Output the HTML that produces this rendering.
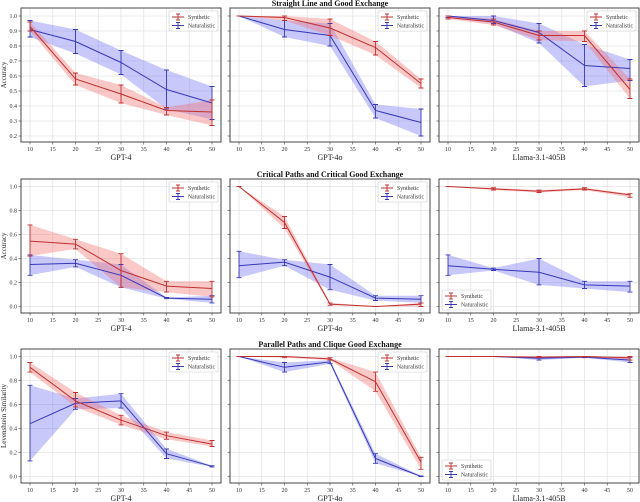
<!DOCTYPE html>
<html><head><meta charset="utf-8">
<style>
html,body{margin:0;padding:0;background:#fff;}
svg{display:block;font-family:"Liberation Serif",serif;}
</style></head>
<body>
<svg id="chart" width="640" height="502" viewBox="0 0 640 502" xmlns="http://www.w3.org/2000/svg"></svg>
<script>
// x categories (path length)
const xCats = [10, 20, 30, 40, 50];
const xTicks = [10, 15, 20, 25, 30, 35, 40, 45, 50];
const row1Ticks = [0.2,0.3,0.4,0.5,0.6,0.7,0.8,0.9,1.0];
const row23Ticks = [0.0,0.2,0.4,0.6,0.8,1.0];
const rowTitles = ["Straight Line and Good Exchange","Critical Paths and Critical Good Exchange","Parallel Paths and Clique Good Exchange"];
const rowYLabels = ["Accuracy","Accuracy","Levenshtein Similarity"];
const modelNames = ["GPT-4","GPT-4o","Llama-3.1-405B"];

// Row 1 — Straight Line
const r1gpt4SynMean = [0.93,0.58,0.48,0.37,0.36];
const r1gpt4SynLo   = [0.90,0.54,0.42,0.34,0.27];
const r1gpt4SynHi   = [0.96,0.62,0.54,0.39,0.44];
const r1gpt4NatMean = [0.91,0.83,0.69,0.51,0.42];
const r1gpt4NatLo   = [0.86,0.75,0.61,0.38,0.31];
const r1gpt4NatHi   = [0.97,0.91,0.77,0.64,0.53];
const r1gpt4oSynMean = [1.0,0.99,0.92,0.79,0.55];
const r1gpt4oSynLo   = [1.0,0.97,0.87,0.74,0.52];
const r1gpt4oSynHi   = [1.0,1.0,0.98,0.83,0.58];
const r1gpt4oNatMean = [1.0,0.91,0.87,0.37,0.29];
const r1gpt4oNatLo   = [1.0,0.86,0.80,0.32,0.20];
const r1gpt4oNatHi   = [1.0,0.97,0.95,0.41,0.38];
const r1llamaSynMean = [0.99,0.96,0.87,0.87,0.51];
const r1llamaSynLo   = [0.98,0.94,0.84,0.83,0.45];
const r1llamaSynHi   = [1.0,0.98,0.90,0.90,0.58];
const r1llamaNatMean = [1.0,0.97,0.89,0.67,0.65];
const r1llamaNatLo   = [0.99,0.95,0.82,0.53,0.57];
const r1llamaNatHi   = [1.0,1.0,0.95,0.81,0.71];

// Row 2 — Critical Paths
const r2gpt4SynMean = [0.545,0.52,0.30,0.17,0.15];
const r2gpt4SynLo   = [0.42,0.48,0.16,0.12,0.08];
const r2gpt4SynHi   = [0.68,0.56,0.44,0.21,0.21];
const r2gpt4NatMean = [0.35,0.36,0.26,0.07,0.06];
const r2gpt4NatLo   = [0.26,0.33,0.16,0.065,0.03];
const r2gpt4NatHi   = [0.43,0.39,0.35,0.075,0.09];
const r2gpt4oSynMean = [1.0,0.70,0.02,0.0,0.02];
const r2gpt4oSynLo   = [1.0,0.65,0.01,0.0,0.0];
const r2gpt4oSynHi   = [1.0,0.75,0.03,0.0,0.03];
const r2gpt4oNatMean = [0.34,0.37,0.245,0.07,0.06];
const r2gpt4oNatLo   = [0.24,0.34,0.14,0.05,0.03];
const r2gpt4oNatHi   = [0.46,0.39,0.35,0.09,0.09];
const r2llamaSynMean = [1.0,0.98,0.96,0.98,0.93];
const r2llamaSynLo   = [1.0,0.97,0.95,0.97,0.91];
const r2llamaSynHi   = [1.0,0.99,0.97,0.99,0.94];
const r2llamaNatMean = [0.34,0.31,0.285,0.18,0.17];
const r2llamaNatLo   = [0.26,0.30,0.18,0.15,0.12];
const r2llamaNatHi   = [0.43,0.32,0.40,0.21,0.21];

// Row 3 — Parallel Paths
const r3gpt4SynMean = [0.91,0.63,0.47,0.34,0.27];
const r3gpt4SynLo   = [0.87,0.58,0.43,0.31,0.25];
const r3gpt4SynHi   = [0.95,0.70,0.51,0.37,0.30];
const r3gpt4NatMean = [0.44,0.61,0.63,0.19,0.085];
const r3gpt4NatLo   = [0.13,0.56,0.57,0.15,0.08];
const r3gpt4NatHi   = [0.76,0.65,0.69,0.23,0.09];
const r3gpt4oSynMean = [1.0,1.0,0.98,0.79,0.12];
const r3gpt4oSynLo   = [1.0,0.99,0.97,0.71,0.06];
const r3gpt4oSynHi   = [1.0,1.0,0.99,0.87,0.16];
const r3gpt4oNatMean = [1.0,0.91,0.955,0.15,0.0];
const r3gpt4oNatLo   = [1.0,0.87,0.94,0.11,0.0];
const r3gpt4oNatHi   = [1.0,0.95,0.97,0.19,0.005];
const r3llamaSynMean = [1.0,1.0,0.995,1.0,0.99];
const r3llamaSynLo   = [1.0,1.0,0.99,0.995,0.97];
const r3llamaSynHi   = [1.0,1.0,1.0,1.0,1.0];
const r3llamaNatMean = [1.0,1.0,0.985,0.995,0.97];
const r3llamaNatLo   = [1.0,1.0,0.97,0.99,0.95];
const r3llamaNatHi   = [1.0,1.0,1.0,1.0,0.99];

const panels = [
 [[r1gpt4SynMean,r1gpt4SynLo,r1gpt4SynHi,r1gpt4NatMean,r1gpt4NatLo,r1gpt4NatHi],
  [r1gpt4oSynMean,r1gpt4oSynLo,r1gpt4oSynHi,r1gpt4oNatMean,r1gpt4oNatLo,r1gpt4oNatHi],
  [r1llamaSynMean,r1llamaSynLo,r1llamaSynHi,r1llamaNatMean,r1llamaNatLo,r1llamaNatHi]],
 [[r2gpt4SynMean,r2gpt4SynLo,r2gpt4SynHi,r2gpt4NatMean,r2gpt4NatLo,r2gpt4NatHi],
  [r2gpt4oSynMean,r2gpt4oSynLo,r2gpt4oSynHi,r2gpt4oNatMean,r2gpt4oNatLo,r2gpt4oNatHi],
  [r2llamaSynMean,r2llamaSynLo,r2llamaSynHi,r2llamaNatMean,r2llamaNatLo,r2llamaNatHi]],
 [[r3gpt4SynMean,r3gpt4SynLo,r3gpt4SynHi,r3gpt4NatMean,r3gpt4NatLo,r3gpt4NatHi],
  [r3gpt4oSynMean,r3gpt4oSynLo,r3gpt4oSynHi,r3gpt4oNatMean,r3gpt4oNatLo,r3gpt4oNatHi],
  [r3llamaSynMean,r3llamaSynLo,r3llamaSynHi,r3llamaNatMean,r3llamaNatLo,r3llamaNatHi]]
];

const NS = "http://www.w3.org/2000/svg";
const svg = document.getElementById("chart");
function mk(tag, attrs, parent, text){
  const e = document.createElementNS(NS, tag);
  for (const k in attrs) e.setAttribute(k, attrs[k]);
  if (text !== undefined) e.textContent = text;
  (parent || svg).appendChild(e);
  return e;
}
const colLefts = [21, 230, 439];
const PW = 200, PH = 134;
const rowTops = [8, 179, 349];
const RED = "#c03030", BLUE = "#3838b8";
const RED_F = "rgba(245,110,110,0.38)", BLUE_F = "rgba(110,110,245,0.38)";

for (let r = 0; r < 3; r++) {
  const top = rowTops[r], bot = top + PH;
  let yScale, ticks, fmt;
  if (r === 0) { yScale = v => top + 8 + (1 - v) * 150; ticks = row1Ticks; }
  else { yScale = v => top + 7.5 + (1 - v) * 120; ticks = row23Ticks; }
  const title = mk("text", {x: 330, y: top - 2, "text-anchor": "middle", "font-size": 8, "font-weight": "bold", fill: "#111"}, svg, rowTitles[r]);
  
  
  for (let c = 0; c < 3; c++) {
    const left = colLefts[c];
    const xScale = x => left + 9 + (x - 10) / 40 * 182;
    const g = mk("g", {});
    
    
    // grid
    for (const t of xTicks) {
      const x = xScale(t);
      mk("line", {x1: x, x2: x, y1: top, y2: bot, stroke: "#e4e4e4", "stroke-width": 0.8}, g);
      mk("line", {x1: x, x2: x, y1: bot, y2: bot + 2.5, stroke: "#444", "stroke-width": 0.6}, g);
      const tl = mk("text", {x: x, y: bot + 9, "text-anchor": "middle", "font-size": 6, fill: "#333"}, g, String(t));
      
      
    }
    for (const t of ticks) {
      const y = yScale(t);
      mk("line", {x1: left, x2: left + PW, y1: y, y2: y, stroke: "#e4e4e4", "stroke-width": 0.8}, g);
      mk("line", {x1: left - 2.5, x2: left, y1: y, y2: y, stroke: "#444", "stroke-width": 0.6}, g);
      if (c === 0) {
        const yl = mk("text", {x: left - 4, y: y + 2, "text-anchor": "end", "font-size": 6, fill: "#333"}, g, t.toFixed(1));
        
        
      }
    }
    const d = panels[r][c];
    const series = [[d[3], d[4], d[5], BLUE, BLUE_F, 'naturalistic'], [d[0], d[1], d[2], RED, RED_F, 'synthetic']];
    // bands first
    for (const s of series) {
      let pts = xCats.map((x, i) => xScale(x) + "," + yScale(s[2][i]));
      pts = pts.concat(xCats.slice().reverse().map((x, j) => { const i = xCats.length - 1 - j; return xScale(x) + "," + yScale(s[1][i]); }));
      const band = mk("polygon", {points: pts.join(" "), fill: s[4], stroke: "none"}, g);
      
      
    }
    for (const s of series) {
      const line = mk("polyline", {points: xCats.map((x, i) => xScale(x) + "," + yScale(s[0][i])).join(" "), fill: "none", stroke: s[3], "stroke-width": 1}, g);
      
      
      xCats.forEach((x, i) => {
        const px = xScale(x), y1 = yScale(s[1][i]), y2 = yScale(s[2][i]);
        const eb = mk("path", {d: `M${px},${y1}V${y2}M${px-2.5},${y1}H${px+2.5}M${px-2.5},${y2}H${px+2.5}`, stroke: s[3], "stroke-width": 0.9, fill: "none"}, g);
        
        
      });
    }
    // frame
    mk("rect", {x: left, y: top, width: PW, height: PH, fill: "none", stroke: "#444", "stroke-width": 1}, g);
    // x label
    const xl = mk("text", {x: left + PW / 2, y: bot + 18, "text-anchor": "middle", "font-size": 8, fill: "#222"}, g, modelNames[c]);
    
    
    if (c === 0) {
      const cy = top + PH / 2;
      const yt = mk("text", {x: 6, y: cy, "text-anchor": "middle", "font-size": 7, fill: "#222", transform: `rotate(-90 6 ${cy})`}, g, rowYLabels[r]);
      
      
    }
    // legend
    const lowerLeft = (c === 2 && r > 0);
    const lx = lowerLeft ? left + 3 : left + PW - 52;
    const ly = lowerLeft ? bot - 23 : top + 3;
    const lg = mk("g", {}, g);
    
    
    mk("rect", {x: lx, y: ly, width: 49, height: 20, rx: 1.5, fill: "rgba(255,255,255,0.85)", stroke: "#ccc", "stroke-width": 0.6}, lg);
    [["Synthetic", RED], ["Naturalistic", BLUE]].forEach((it, k) => {
      const yy = ly + 6 + k * 8.5;
      const ex = lx + 9;
      mk("path", {d: `M${ex-6},${yy}H${ex+6}M${ex},${yy-3}V${yy+3}M${ex-2},${yy-3}H${ex+2}M${ex-2},${yy+3}H${ex+2}`, stroke: it[1], "stroke-width": 0.9, fill: "none"}, lg);
      const lt = mk("text", {x: lx + 19, y: yy + 2, "font-size": 5.8, fill: "#333"}, lg, it[0]);
      
      
    });
  }
}
</script>
</body></html>
